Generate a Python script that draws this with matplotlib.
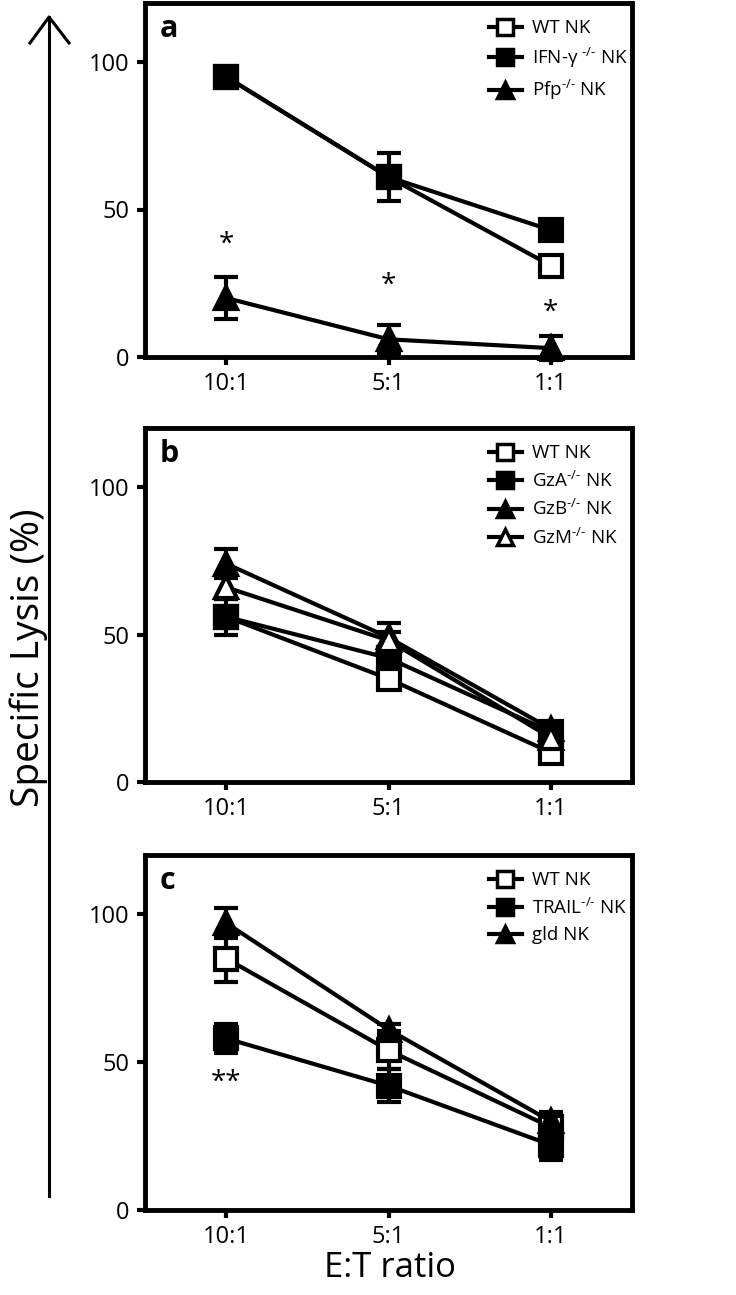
import matplotlib
matplotlib.use('Agg')
import matplotlib.pyplot as plt
from matplotlib.lines import Line2D

plt.rcParams['font.family'] = ['Open Sans', 'DejaVu Sans']
plt.rcParams['mathtext.fontset'] = 'custom'
plt.rcParams['mathtext.rm'] = 'Open Sans'
plt.rcParams['mathtext.it'] = 'Open Sans:italic'
plt.rcParams['mathtext.bf'] = 'Open Sans:bold'

ratios = ['10:1', '5:1', '1:1']
yticks = [0, 50, 100]

SUP = r'$^{\text{-/-}}$'

# Panel a
a_labels = ['WT NK', 'IFN-γ ' + SUP + ' NK', 'Pfp' + SUP + ' NK']
a_wt = [95, 61, 31]
a_wt_err = [2, 8, 2]
a_ifn = [95, 61, 43]
a_ifn_err = [2, 3, 3.5]
a_pfp = [20, 6, 3]
a_pfp_err = [7, 5, 4]
a_star_y = [38, 24, 15]
a_star_txt = ['*', '*', '*']

# Panel b
b_labels = ['WT NK', 'GzA' + SUP + ' NK', 'GzB' + SUP + ' NK', 'GzM' + SUP + ' NK']
b_wt = [56, 35, 10]
b_wt_err = [3, 2, 2]
b_gza = [56, 42, 17]
b_gza_err = [6, 3, 2]
b_gzb = [74, 49, 18]
b_gzb_err = [5, 5, 2]
b_gzm = [66, 48, 15]
b_gzm_err = [4, 3, 2]

# Panel c
c_labels = ['WT NK', 'TRAIL' + SUP + ' NK', 'gld NK']
c_wt = [85, 54, 28]
c_wt_err = [8, 6.5, 3]
c_trail = [58, 42, 22]
c_trail_err = [5, 5.5, 5]
c_gld = [97, 61, 30]
c_gld_err = [5, 2, 3]
c_star_y = [43]
c_star_txt = ['**']

STY = {
    'open_sq': dict(marker='s', mfc='white'),
    'fill_sq': dict(marker='s', mfc='black'),
    'fill_tri': dict(marker='^', mfc='black'),
    'open_tri': dict(marker='^', mfc='white'),
}

W, H = 736, 1295
fig = plt.figure(figsize=(W / 100, H / 100), dpi=100)


def ax_rect(left, top, right, bottom):
    return [left / W, 1 - bottom / H, (right - left) / W, (bottom - top) / H]


def panel(rect, series, letter, leg_top, stars=None):
    ax = fig.add_axes(rect)
    x = list(range(len(ratios)))
    handles = []
    for i, (vals, errs, style, lab) in enumerate(series):
        st = STY[style]
        ax.errorbar(x, vals, yerr=errs, color='black', lw=3, marker=st['marker'],
                    ms=16, mfc=st['mfc'], mec='black', mew=3,
                    elinewidth=3, capsize=8.5, capthick=3.5, clip_on=False, zorder=3 + i)
        handles.append(Line2D([], [], color='black', lw=3, marker=st['marker'], ms=11,
                              mfc=st['mfc'], mec='black', mew=2.5))
    labels = [s[3] for s in series]
    ax.legend(handles, labels, loc='upper left', bbox_to_anchor=(0.69, leg_top),
              frameon=False, fontsize=13.5, handlelength=1.8, handletextpad=0.5,
              labelspacing=0.45, borderaxespad=0)
    ax.set_xlim(-0.5, 2.5)
    ax.set_ylim(0, 120)
    ax.set_xticks(x)
    ax.set_xticklabels(ratios)
    ax.set_yticks(yticks)
    for sp in ax.spines.values():
        sp.set_linewidth(3.5)
    ax.tick_params(direction='out', length=6, width=3, labelsize=17, pad=5)
    ax.text(0.03, 0.97, letter, transform=ax.transAxes, fontsize=22,
            fontweight='bold', va='top', ha='left')
    if stars:
        sx, sy, st = stars
        for xi, yi, t in zip(sx, sy, st):
            ax.text(xi, yi, t, ha='center', va='center', fontsize=20)
    return ax


panel(ax_rect(145, 3, 632, 357),
      [(a_wt, a_wt_err, 'open_sq', a_labels[0]),
       (a_ifn, a_ifn_err, 'fill_sq', a_labels[1]),
       (a_pfp, a_pfp_err, 'fill_tri', a_labels[2])],
      'a', 0.975, ([0, 1, 2], a_star_y, a_star_txt))

panel(ax_rect(145, 428, 632, 782),
      [(b_wt, b_wt_err, 'open_sq', b_labels[0]),
       (b_gza, b_gza_err, 'fill_sq', b_labels[1]),
       (b_gzb, b_gzb_err, 'fill_tri', b_labels[2]),
       (b_gzm, b_gzm_err, 'open_tri', b_labels[3])],
      'b', 0.975)

panel(ax_rect(145, 855, 632, 1210),
      [(c_wt, c_wt_err, 'open_sq', c_labels[0]),
       (c_trail, c_trail_err, 'fill_sq', c_labels[1]),
       (c_gld, c_gld_err, 'fill_tri', c_labels[2])],
      'c', 0.975, ([0], c_star_y, c_star_txt))

# Big arrow on the left
ax_x = 49 / W
fig.add_artist(Line2D([ax_x, ax_x], [1 - 1196 / H, 1 - 17 / H], color='black', lw=2.2))
fig.add_artist(Line2D([30 / W, ax_x, 69 / W], [1 - 43 / H, 1 - 17 / H, 1 - 43 / H],
                      color='black', lw=2.2))

fig.text(29 / W, 1 - 658 / H, 'Specific Lysis (%)', rotation=90, ha='center', va='center',
         fontsize=28)
fig.text(390 / W, 1 - 1268 / H, 'E:T ratio', ha='center', va='center', fontsize=25)

fig.savefig('out.png', dpi=100)
